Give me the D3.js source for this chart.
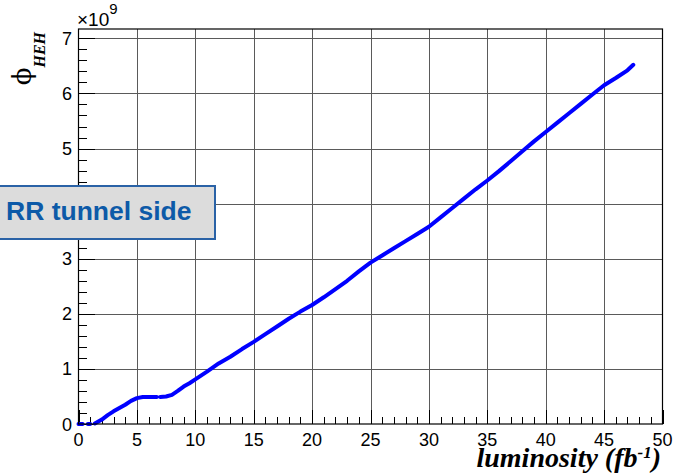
<!DOCTYPE html>
<html>
<head>
<meta charset="utf-8">
<script src="https://cdn.jsdelivr.net/npm/d3@7/dist/d3.min.js"></script>
<style>
  html, body { margin: 0; padding: 0; background: #ffffff; }
  svg { display: block; }
</style>
</head>
<body>
<svg id="chart" width="677" height="475"></svg>
<script>
// Integrated luminosity (fb^-1) and HEH fluence (units of 1e9); null marks a gap in the curve
const lumi = [0, 0.2, 0.35, null, 0.8, 1.0, null,
  1.4, 2.0, 2.5, 3.0, 3.5, 4.0, 4.5, 5.0, 5.5, 6.0, 6.7, null,
  7.0, 7.5, 8.0, 8.5, 9.0, 9.5, 10, 11, 12, 13, 14, 15, 16, 17, 18, 19,
  20, 21, 22, 23, 24, 25, 26, 27, 28, 29, 30, 31, 32, 33, 34, 35, 36, 37,
  38, 39, 40, 41, 42, 43, 44, 45, 46, 47, 47.5];
const heh = [0, 0, 0, null, 0, 0, null,
  0.01, 0.08, 0.16, 0.23, 0.29, 0.35, 0.42, 0.47, 0.49, 0.49, 0.49, null,
  0.49, 0.50, 0.53, 0.60, 0.68, 0.74, 0.81, 0.95, 1.10, 1.22, 1.36, 1.49, 1.63, 1.77, 1.91, 2.04,
  2.16, 2.30, 2.45, 2.60, 2.77, 2.93, 3.06, 3.19, 3.32, 3.45, 3.58, 3.75, 3.92, 4.09, 4.26, 4.42, 4.59, 4.77,
  4.95, 5.13, 5.30, 5.47, 5.64, 5.81, 5.98, 6.15, 6.28, 6.42, 6.52];

const xTicks = [0, 5, 10, 15, 20, 25, 30, 35, 40, 45, 50];
const yTicks = [0, 1, 2, 3, 4, 5, 6, 7];
const xDomain = [0, 50];
const yDomain = [0, 7.17];
const panelText = "RR tunnel side";

const svg = d3.select("#chart");
const L = 78.5, R = 662.5, T = 29, B = 424;

const x = d3.scaleLinear().domain(xDomain).range([L, R]);
const y = d3.scaleLinear().domain(yDomain).range([B, T]);

const grid = svg.append("g").attr("stroke", "#5a5a5a").attr("stroke-width", 1).attr("shape-rendering", "crispEdges");
grid.selectAll("line.gx").data(xTicks.filter(v => v > 0 && v < 50)).join("line")
  .attr("x1", d => Math.round(x(d)) + 0.5).attr("x2", d => Math.round(x(d)) + 0.5)
  .attr("y1", T).attr("y2", B);
grid.selectAll("line.gy").data(yTicks.filter(v => v > 0)).join("line")
  .attr("y1", d => Math.round(y(d)) + 0.5).attr("y2", d => Math.round(y(d)) + 0.5)
  .attr("x1", L).attr("x2", R);

// Minor ticks drawn inside the frame
const minor = svg.append("g").attr("stroke", "#000").attr("stroke-width", 1).attr("shape-rendering", "crispEdges");
minor.selectAll("line.mx").data(d3.range(0, 51, 1)).join("line")
  .attr("x1", d => Math.round(x(d)) + 0.5).attr("x2", d => Math.round(x(d)) + 0.5)
  .attr("y1", B).attr("y2", d => B - (d % 5 === 0 ? 14 : 7));
minor.selectAll("line.my").data(d3.range(0, 7.1, 0.2)).join("line")
  .attr("y1", d => Math.round(y(d)) + 0.5).attr("y2", d => Math.round(y(d)) + 0.5)
  .attr("x1", L).attr("x2", d => L + (Math.abs(d - Math.round(d)) < 1e-6 ? 16 : 8));

// Curve
const pts = lumi.map((v, i) => [v, heh[i]]);
const line = d3.line().defined(d => d[0] !== null && d[1] !== null)
  .x(d => x(d[0])).y(d => y(d[1]));
svg.append("path").datum(pts).attr("d", line)
  .attr("fill", "none").attr("stroke", "#0000ff").attr("stroke-width", 4)
  .attr("stroke-linecap", "round").attr("stroke-linejoin", "round");

// Frame
svg.append("rect").attr("x", L).attr("y", T).attr("width", R - L).attr("height", B - T)
  .attr("fill", "none").attr("stroke", "#000").attr("stroke-width", 1.2);

// Tick labels
const font = "'Liberation Sans', Arial, Helvetica, sans-serif";
svg.append("g").selectAll("text").data(xTicks).join("text")
  .attr("x", d => x(d)).attr("y", 446).attr("text-anchor", "middle")
  .attr("font-family", font).attr("font-size", 18).text(d => d);
svg.append("g").selectAll("text").data(yTicks).join("text")
  .attr("x", 72).attr("y", d => y(d) + 6.5).attr("text-anchor", "end")
  .attr("font-family", font).attr("font-size", 18).text(d => d);

// Exponent
const ex = svg.append("text").attr("x", 77).attr("y", 26).attr("font-family", font)
  .style("font-size", "19px");
ex.append("tspan").text("×10");
ex.append("tspan").attr("dy", -12).style("font-size", "15px").text("9");

// Axis titles
const serif = "'Liberation Serif', 'Times New Roman', serif";
const xt = svg.append("text").attr("x", 661).attr("y", 467).attr("text-anchor", "end")
  .attr("font-family", serif).attr("font-size", 28).attr("font-weight", "bold").attr("font-style", "italic");
xt.append("tspan").text("luminosity (fb");
xt.append("tspan").attr("dy", -9).attr("font-size", 17).text("-1");
xt.append("tspan").attr("dy", 9).text(")");

const yt = svg.append("text").attr("transform", "translate(31,32) rotate(-90)")
  .attr("text-anchor", "end").attr("font-family", serif);
yt.append("tspan").attr("font-size", 26).attr("font-family", "'DejaVu Serif', serif").text("ϕ");
yt.append("tspan").attr("dy", 14).attr("font-size", 16).attr("font-weight", "bold").attr("font-style", "italic").text("HEH");

// Panel label
svg.append("rect").attr("x", -2).attr("y", 186).attr("width", 217).attr("height", 53)
  .attr("fill", "#dcdcdc").attr("stroke", "#2a62a6").attr("stroke-width", 2);
svg.append("text").attr("x", 6).attr("y", 220).attr("font-family", font).attr("font-weight", "bold")
  .attr("font-size", 26.5).attr("fill", "#0d5aa8").text(panelText);
</script>
</body>
</html>
